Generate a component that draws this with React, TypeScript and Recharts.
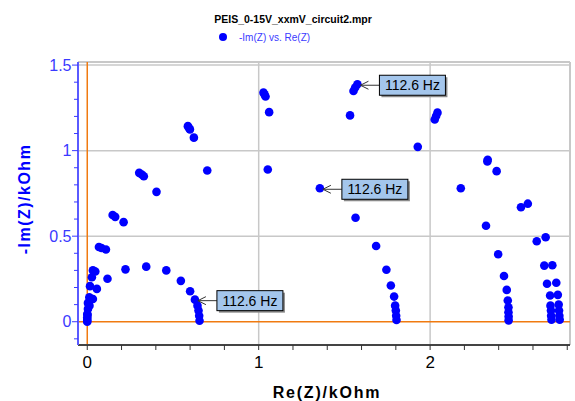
import React from "react"
import { ScatterChart, Scatter, XAxis, YAxis, ReferenceLine, ReferenceDot } from "recharts"

// Nyquist readings, [Re(Z), -Im(Z)] in kOhm, one array per arc
const arcA: [number, number][] = [
  [0.0, 0.006], [0.002, 0.04], [0.013, 0.094], [0.033, 0.133], [0.056, 0.192], [0.118, 0.251],
  [0.223, 0.306], [0.344, 0.322], [0.461, 0.3], [0.546, 0.239], [0.6, 0.178], [0.628, 0.129],
  [0.643, 0.094], [0.649, 0.065], [0.653, 0.035], [0.655, 0.006],
]
const arcB: [number, number][] = [
  [0.0, 0.016], [0.004, 0.075], [0.012, 0.143], [0.047, 0.294], [0.109, 0.422], [0.212, 0.582],
  [0.404, 0.759], [0.7, 0.884], [1.053, 0.89], [1.357, 0.78], [1.565, 0.608], [1.685, 0.443],
  [1.745, 0.304], [1.771, 0.212], [1.79, 0.147], [1.796, 0.094], [1.8, 0.065], [1.802, 0.035],
  [1.804, 0.01],
]
const arcC: [number, number][] = [
  [0.0, 0.045], [0.033, 0.3], [0.068, 0.437], [0.148, 0.624], [0.318, 0.86], [0.593, 1.133],
  [1.034, 1.329], [1.563, 1.369], [2.035, 1.202], [2.388, 0.88], [2.53, 0.669], [2.622, 0.47],
  [2.666, 0.328], [2.682, 0.222], [2.7, 0.153], [2.702, 0.094], [2.705, 0.065], [2.706, 0.035],
  [2.708, 0.012],
]
const arcD: [number, number][] = [
  [0.0, 0.0], [0.008, 0.104], [0.027, 0.26], [0.083, 0.431], [0.163, 0.613], [0.33, 0.85],
  [0.622, 1.076], [1.061, 1.225], [1.533, 1.206], [1.928, 1.022], [2.179, 0.78], [2.326, 0.561],
  [2.397, 0.394], [2.431, 0.267], [2.447, 0.186], [2.453, 0.124], [2.457, 0.084], [2.457, 0.055],
  [2.458, 0.03], [2.458, 0.008],
]
const arcE: [number, number][] = [
  [0.0, 0.024], [0.004, 0.11], [0.016, 0.208], [0.303, 0.87], [0.587, 1.143], [1.028, 1.339],
  [1.576, 1.388], [2.043, 1.222], [2.336, 0.947], [2.57, 0.69], [2.674, 0.494], [2.713, 0.33],
  [2.736, 0.228], [2.745, 0.157], [2.75, 0.1], [2.752, 0.065], [2.754, 0.035], [2.756, 0.012],
]
const arcF: [number, number][] = [
  [0.599, 1.124], [1.04, 1.316], [1.553, 1.349], [2.027, 1.182], [2.334, 0.937],
]

const arcs = [arcA, arcB, arcC, arcD, arcE, arcF]

// frequency markers
const markers = [
  { re: 0.628, im: 0.129, text: "112.6 Hz" },
  { re: 1.357, im: 0.78, text: "112.6 Hz" },
  { re: 1.576, im: 1.388, text: "112.6 Hz" },
]

const xTicks = [0, 0.2, 0.4, 0.6, 0.8, 1, 1.2, 1.4, 1.6, 1.8, 2, 2.2, 2.4, 2.6, 2.8]
const xLabels = [0, 1, 2]
const yTicks = [-0.1, 0, 0.1, 0.2, 0.3, 0.4, 0.5, 0.6, 0.7, 0.8, 0.9, 1, 1.1, 1.2, 1.3, 1.4, 1.5]
const yLabels = [0, 0.5, 1, 1.5]
const xGrid = [1, 2]
const yGrid = [0.5, 1, 1.5]

const X_DOMAIN: [number, number] = [-0.054, 2.816]
const Y_DOMAIN: [number, number] = [-0.136, 1.518]

const FONT = "'Liberation Sans', Arial, sans-serif"
const BLUE = "#0000ff"
const AXIS_BLUE = "#3a3aff"
const ORANGE = "#f07a10"
const GRID = "#c8c8c8"

const isLabel = (list: number[], v: number) => list.some((l) => Math.abs(l - v) < 1e-6)

const XTick = ({ x, y, payload }: any) => (
  <g>
    <line x1={x} y1={y} x2={x} y2={y + 5} stroke="#333" strokeWidth={1} />
    {isLabel(xLabels, payload.value) && (
      <text x={x} y={y + 23} textAnchor="middle" fontSize={17} fontFamily={FONT} fill="#000">
        {payload.value}
      </text>
    )}
  </g>
)

const YTick = ({ x, y, payload }: any) => {
  const major = isLabel(yLabels, payload.value)
  return (
    <g>
      <line x1={x - (major ? 6 : 4)} y1={y} x2={x} y2={y} stroke={AXIS_BLUE} strokeWidth={1} />
      {major && (
        <text x={x - 6.5} y={y + 5.5} textAnchor="end" fontSize={16} fontFamily={FONT} fill={AXIS_BLUE}>
          {payload.value}
        </text>
      )}
    </g>
  )
}

const Dot = (props: any) => <circle cx={props.cx} cy={props.cy} r={4.3} fill={BLUE} />

// boxed label with an arrow pointing back at the point
const Callout = ({ cx, cy, text }: { cx: number; cy: number; text: string }) => {
  const bx = cx + 22
  const by = cy - 9
  return (
    <g>
      <line x1={bx} y1={cy + 1} x2={cx + 3} y2={cy + 1} stroke="#333" strokeWidth={1} />
      <polyline
        points={`${cx + 11},${cy - 3} ${cx + 3},${cy + 1} ${cx + 11},${cy + 5}`}
        fill="none"
        stroke="#333"
        strokeWidth={1}
      />
      <rect x={bx + 2} y={by + 2} width={66} height={20} fill="#8a8a8a" />
      <rect x={bx} y={by} width={66} height={20} fill="#a4c6ec" stroke="#000" strokeWidth={1} />
      <text x={bx + 33} y={by + 15} textAnchor="middle" fontSize={14} fontFamily={FONT} fill="#000">
        {text}
      </text>
    </g>
  )
}

export default function App() {
  return (
    <div style={{ position: "absolute", left: 0, top: 0, width: 575, height: 401, background: "#fff" }}>
      <ScatterChart width={575} height={401} margin={{ top: 62, right: 5, bottom: 0, left: 0 }}>
        <XAxis
          type="number"
          dataKey="re"
          domain={X_DOMAIN}
          ticks={xTicks}
          interval={0}
          allowDataOverflow
          height={56}
          tickSize={0}
          tickMargin={0}
          tickLine={false}
          axisLine={{ stroke: "#444", strokeWidth: 2 }}
          tick={<XTick />}
        />
        <YAxis
          type="number"
          dataKey="im"
          domain={Y_DOMAIN}
          ticks={yTicks}
          interval={0}
          allowDataOverflow
          width={78}
          tickSize={0}
          tickMargin={0}
          tickLine={false}
          axisLine={{ stroke: "#5a5aff", strokeWidth: 2 }}
          tick={<YTick />}
        />
        {xGrid.map((v) => (
          <ReferenceLine key={`xg-${v}`} x={v} stroke={GRID} strokeWidth={1.5} />
        ))}
        {yGrid.map((v) => (
          <ReferenceLine key={`yg-${v}`} y={v} stroke={GRID} strokeWidth={1.5} />
        ))}
        <ReferenceLine x={X_DOMAIN[1]} stroke={GRID} strokeWidth={2} />
        <ReferenceLine y={Y_DOMAIN[1]} stroke={GRID} strokeWidth={2} />
        <ReferenceLine x={0} stroke={ORANGE} strokeWidth={1.5} />
        <ReferenceLine y={0} stroke={ORANGE} strokeWidth={1.5} />
        {arcs.map((arc, i) => (
          <Scatter
            key={`arc-${i}`}
            data={arc.map(([re, im]) => ({ re, im }))}
            fill={BLUE}
            shape={Dot}
            isAnimationActive={false}
          />
        ))}
        {markers.map((m, i) => (
          <ReferenceDot
            key={`m-${i}`}
            x={m.re}
            y={m.im}
            r={0}
            ifOverflow="visible"
            shape={(p: any) => <Callout cx={p.cx} cy={p.cy} text={m.text} />}
          />
        ))}
      </ScatterChart>
      <svg
        width={575}
        height={401}
        style={{ position: "absolute", left: 0, top: 0, pointerEvents: "none" }}
      >
        <text x={293} y={23} textAnchor="middle" fontSize={10.5} fontWeight="bold" fontFamily={FONT} fill="#000">
          PEIS_0-15V_xxmV_circuit2.mpr
        </text>
        <circle cx={223} cy={37} r={4} fill={BLUE} />
        <text x={239} y={41} fontSize={10} fontFamily={FONT} fill={AXIS_BLUE}>
          -Im(Z) vs. Re(Z)
        </text>
        <text
          x={24}
          y={199}
          transform="rotate(-90 24 199)"
          textAnchor="middle"
          dominantBaseline="central"
          fontSize={16}
          fontWeight="bold"
          letterSpacing={1.5}
          fontFamily={FONT}
          fill={BLUE}
        >
          -Im(Z)/kOhm
        </text>
        <text
          x={327}
          y={398}
          textAnchor="middle"
          fontSize={16}
          fontWeight="bold"
          letterSpacing={1.8}
          fontFamily={FONT}
          fill="#000"
        >
          Re(Z)/kOhm
        </text>
      </svg>
    </div>
  )
}
